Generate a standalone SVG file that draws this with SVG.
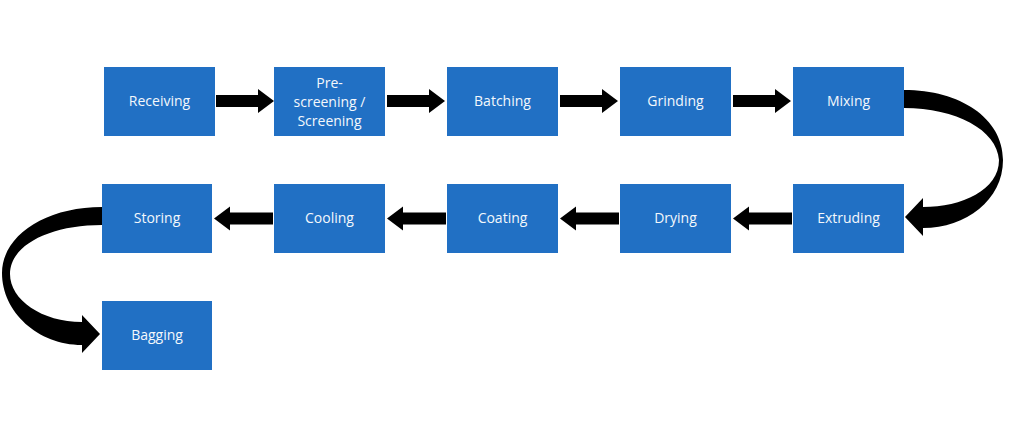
<svg xmlns="http://www.w3.org/2000/svg" width="1024" height="447" viewBox="0 0 1024 447">
<defs>
<style>
.box{fill:#2170C4;}
.lbl{fill:#f4f8fc;font-family:"Open Sans","Liberation Sans",sans-serif;font-size:14px;text-anchor:middle;}
.arr{fill:#000000;}
</style>
<path id="ar" d="M0,-6 L42,-6 L42,-12 L58,0 L42,12 L42,6 L0,6 Z"/>
<path id="al" d="M0,-6 L-43,-6 L-43,-12 L-59,0 L-43,12 L-43,6 L0,6 Z"/>
</defs>
<rect width="1024" height="447" fill="#ffffff"/>
<g id="receiving"><rect class="box" x="104" y="67" width="111" height="69"/><text class="lbl" x="159.5" y="106">Receiving</text></g>
<g id="prescreening"><rect class="box" x="274" y="67" width="111" height="69"/><text class="lbl" x="329.5" y="88">Pre-</text><text class="lbl" x="329.5" y="107">screening /</text><text class="lbl" x="329.5" y="126">Screening</text></g>
<g id="batching"><rect class="box" x="447" y="67" width="111" height="69"/><text class="lbl" x="502.5" y="106">Batching</text></g>
<g id="grinding"><rect class="box" x="620" y="67" width="111" height="69"/><text class="lbl" x="675.5" y="106">Grinding</text></g>
<g id="mixing"><rect class="box" x="793" y="67" width="111" height="69"/><text class="lbl" x="848.5" y="106">Mixing</text></g>
<g id="extruding"><rect class="box" x="793" y="184" width="111" height="69"/><text class="lbl" x="848.5" y="223">Extruding</text></g>
<g id="drying"><rect class="box" x="620" y="184" width="111" height="69"/><text class="lbl" x="675.5" y="223">Drying</text></g>
<g id="coating"><rect class="box" x="447" y="184" width="111" height="69"/><text class="lbl" x="502.5" y="223">Coating</text></g>
<g id="cooling"><rect class="box" x="274" y="184" width="111" height="69"/><text class="lbl" x="329.5" y="223">Cooling</text></g>
<g id="storing"><rect class="box" x="102" y="184" width="110" height="69"/><text class="lbl" x="157" y="223">Storing</text></g>
<g id="bagging"><rect class="box" x="102" y="301" width="110" height="69"/><text class="lbl" x="157" y="340">Bagging</text></g>
<g id="connectors" class="arr">
<use href="#ar" x="216" y="101"/>
<use href="#ar" x="387" y="101"/>
<use href="#ar" x="560" y="101"/>
<use href="#ar" x="733" y="101"/>
<use href="#al" x="792" y="218.5"/>
<use href="#al" x="619" y="218.5"/>
<use href="#al" x="446" y="218.5"/>
<use href="#al" x="273" y="218.5"/>
<path d="M904,90 C960,90 1003,118 1003,160 C1003,200 966,228 923,228 L923,236 L905,217 L923,198 L923,207 C962,207 999,190 999,160 C997,130 956,108 904,108 Z"/>
<path d="M102,207 C45,207 2,236 2,273 C2,312 38,345 82,345 L82,353 L100,334 L82,315 L82,322 C42,322 10,300 10,274 C10,245 50,225 102,225 Z"/>
</g>
</svg>
